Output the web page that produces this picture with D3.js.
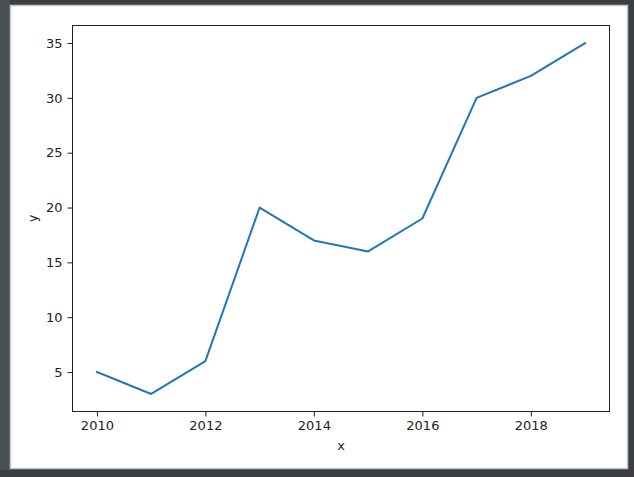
<!DOCTYPE html>
<html><head><meta charset="utf-8">
<script src="https://cdn.jsdelivr.net/npm/d3@7"></script>
<style>
html,body{margin:0;padding:0;background:#3c3f41;}
svg{display:block;}
text{font-family:"DejaVu Sans",sans-serif;}
</style></head>
<body>
<svg id="c" width="634" height="477"></svg>
<script>
const years = [2010, 2011, 2012, 2013, 2014, 2015, 2016, 2017, 2018, 2019];
const values = [5, 3, 6, 20, 17, 16, 19, 30, 32, 35];
const xTicks = [2010, 2012, 2014, 2016, 2018];
const yTicks = [5, 10, 15, 20, 25, 30, 35];

const svg = d3.select("#c");
// window frame
svg.append("rect").attr("x",0).attr("y",0).attr("width",634).attr("height",477).attr("fill","#3c3f41");
svg.append("rect").attr("x",0).attr("y",0).attr("width",10).attr("height",470).attr("fill","#4b5053");
svg.append("rect").attr("x",10.5).attr("y",5.5).attr("width",617).attr("height",463)
  .attr("fill","#fff").attr("stroke","#c8c8c8").attr("stroke-width",1.5);

const L=72.5, R=609.5, T=25.5, B=411.5;
const x = d3.scaleLinear().domain([2009.55, 2019.45]).range([L, R]);
const y = d3.scaleLinear().domain([1.4, 36.6]).range([B, T]);

const g = svg.append("g");
const line = d3.line().x((d,i)=>x(years[i])).y(d=>y(d));
g.append("path").datum(values).attr("d", line).attr("fill","none")
  .attr("stroke","#1f77b4").attr("stroke-width",2).attr("stroke-linejoin","round").attr("stroke-linecap","square");

const xa = g.append("g").attr("transform",`translate(0,${B})`)
  .call(d3.axisBottom(x).tickValues(xTicks).tickFormat(d3.format("d")).tickSizeInner(5).tickSizeOuter(0).tickPadding(4));
const ya = g.append("g").attr("transform",`translate(${L},0)`)
  .call(d3.axisLeft(y).tickValues(yTicks).tickFormat(d3.format("d")).tickSizeInner(5).tickSizeOuter(0).tickPadding(5));
[xa,ya].forEach(a=>{
  a.select(".domain").remove();
  a.selectAll("line").attr("stroke","#222");
  a.selectAll("text").attr("font-size",13).attr("fill","#222").attr("font-family","DejaVu Sans");
});
g.append("rect").attr("x",L).attr("y",T).attr("width",R-L).attr("height",B-T)
  .attr("fill","none").attr("stroke","#222").attr("stroke-width",1);

g.append("text").attr("x",(L+R)/2).attr("y",450).attr("text-anchor","middle")
  .attr("font-size",13).attr("fill","#222").text("x");
g.append("text").attr("transform",`translate(37,${(T+B)/2}) rotate(-90)`).attr("text-anchor","middle")
  .attr("font-size",13).attr("fill","#222").text("y");
</script>
</body></html>
